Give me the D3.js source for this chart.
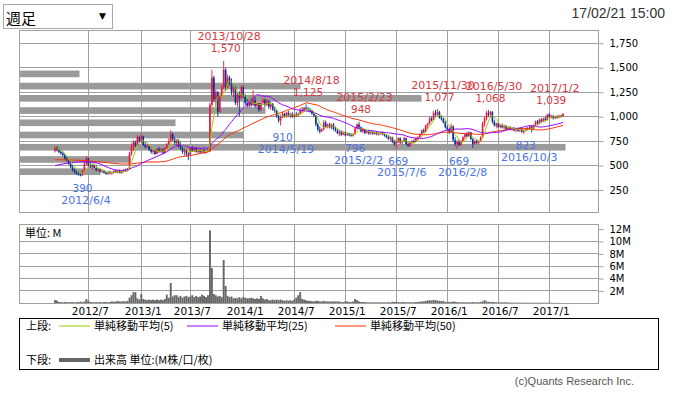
<!DOCTYPE html>
<html>
<head>
<meta charset="utf-8">
<script src="https://cdnjs.cloudflare.com/ajax/libs/d3/7.8.5/d3.min.js"></script>
<style>
  html, body { margin: 0; padding: 0; background: #fff; }
  svg { display: block; }
</style>
</head>
<body>
<svg id="chart" width="674" height="396"></svg>
<script>
// weekly candles, first row is the week of 2012-03-05
var firstWeek = '2012-03-05';

// [open, high, low, close, volume (M)]
var weeks2012 = [
  [650,700,634,690,0.53],[690,695,645,660,0.45],[660,675,625,640,0.2],[640,660,610,625,0.2],
  [625,645,595,605,0.15],[605,620,560,570,0.2],[570,590,540,550,0.2],[550,560,505,515,0.15],
  [515,540,470,480,0.2],[480,505,440,450,0.2],[450,470,420,430,0.15],[430,455,405,415,0.2],
  [415,440,398,405,0.2],[405,425,390,400,0.25],[400,455,398,445,0.2],[445,540,440,520,0.3],
  [520,597,505,575,0.7],[575,580,490,500,0.4],[500,540,470,480,0.2],[480,520,455,505,0.2],
  [505,520,470,475,0.15],[475,505,440,455,0.2],[455,480,440,460,0.15],[460,470,430,440,0.2],
  [440,465,425,450,0.15],[450,455,415,425,0.2],[425,445,405,415,0.2],[415,445,405,435,0.15],
  [435,450,410,420,0.2],[420,440,405,430,0.3],[430,455,420,445,0.25],[445,460,425,430,0.3],
  [430,455,420,450,0.35],[450,460,420,425,0.3],[425,445,415,440,0.3],[440,465,430,455,0.35],
  [455,470,435,445,0.3],[445,475,440,470,0.4],[470,640,460,620,0.9],[620,726,600,690,1.3],
  [690,760,650,740,1.8],[740,755,690,705,1.8],[705,811,700,790,0.8],[790,800,730,745,0.6]
];
var weeks2013 = [
  [745,828,735,800,1.5],[800,805,700,710,0.7],[710,740,675,690,0.6],[690,720,680,700,0.5],
  [700,710,650,660,0.6],[660,690,620,640,0.5],[640,670,615,655,0.6],[655,665,607,620,0.5],
  [620,680,615,670,0.6],[670,690,630,640,0.5],[640,680,630,665,0.6],[665,675,620,630,0.5],
  [630,690,625,680,0.7],[680,730,670,720,1.4],[720,780,710,750,0.9],[750,862,740,820,3.3],
  [820,840,750,770,1.1],[770,790,710,730,1.3],[730,770,690,760,1.3],[760,770,680,700,1.0],
  [700,745,660,675,1.2],[675,700,620,640,0.9],[640,680,600,660,1.1],[660,670,590,620,1.2],
  [620,640,556,610,1.0],[610,690,605,680,1.1],[680,700,640,650,1.3],[650,690,640,680,1.0],
  [680,690,630,640,1.2],[640,670,620,655,1.0],[655,675,625,635,1.1],[635,670,625,660,1.4],
  [660,670,625,630,1.2],[630,665,620,650,1.0],[650,675,635,645,1.3],[645,1140,640,1120,11.8],
  [1120,1480,1100,1400,5.7],[1400,1420,1150,1180,1.5],[1180,1280,1100,1250,1.3],[1250,1260,1000,1050,1.1],
  [1050,1240,1040,1220,1.2],[1220,1320,1200,1300,1.0],[1300,1570,1280,1480,7.0],[1480,1500,1260,1300,2.8],
  [1300,1430,1290,1400,1.2],[1400,1420,1320,1340,1.0],[1340,1390,1220,1250,1.1],[1250,1330,1200,1300,0.8],
  [1300,1310,1120,1140,0.9],[1140,1250,1100,1230,0.8],[1230,1260,1000,1190,1.0],[1190,1320,1180,1300,0.8]
];
var weeks2014 = [
  [1300,1320,1190,1210,1.0],[1210,1230,1120,1140,0.9],[1140,1180,1090,1110,0.8],[1110,1180,1090,1160,0.8],
  [1160,1190,1100,1120,0.9],[1120,1270,1110,1170,0.8],[1170,1200,1090,1110,0.7],[1110,1160,1080,1140,0.8],
  [1140,1150,1050,1070,0.7],[1070,1160,1060,1140,1.2],[1140,1190,1120,1170,0.8],[1170,1185,1100,1120,0.6],
  [1120,1180,1110,1160,0.7],[1160,1170,1080,1100,0.5],[1100,1150,1070,1130,0.5],[1130,1140,1060,1070,0.6],
  [1070,1100,1040,1060,0.5],[1060,1070,990,1000,0.6],[1000,1020,940,960,0.5],[960,1010,910,995,0.6],
  [995,1050,985,1030,0.5],[1030,1040,990,1000,0.4],[1000,1050,990,1040,0.5],[1040,1060,1000,1010,0.4],
  [1010,1040,985,1030,0.5],[1030,1045,990,1000,0.4],[1000,1030,985,1020,0.6],[1020,1050,1000,1010,0.9],
  [1010,1040,1000,1030,1.3],[1030,1090,1020,1070,1.8],[1070,1100,1040,1060,0.7],[1060,1100,1050,1090,0.6],
  [1090,1125,1060,1080,0.5],[1080,1100,1050,1070,0.4],[1070,1090,1040,1060,0.4],[1060,1070,1020,1030,0.3],
  [1030,1050,1000,1010,0.3],[1010,1015,900,920,0.4],[920,940,850,870,0.4],[870,900,828,850,0.3],
  [850,880,840,870,0.3],[870,964,860,940,0.4],[940,960,890,900,0.3],[900,930,880,920,0.3],
  [920,940,880,890,0.3],[890,930,870,920,0.3],[920,935,860,875,0.3],[875,900,845,860,0.3],
  [860,880,820,830,0.3],[830,860,800,850,0.3],[850,860,805,815,0.2],[815,850,810,840,0.2]
];
var weeks2015 = [
  [840,850,800,810,0.3],[810,840,805,830,0.3],[830,835,800,810,0.2],[810,830,798,805,0.2],
  [805,830,796,825,0.3],[825,890,815,880,0.7],[880,930,870,920,0.5],[920,948,880,890,0.3],
  [890,900,840,850,0.2],[850,880,830,870,0.2],[870,875,820,835,0.2],[835,860,825,850,0.15],
  [850,865,815,830,0.15],[830,850,815,845,0.15],[845,855,815,825,0.15],[825,845,815,840,0.15],
  [840,850,810,820,0.15],[820,840,805,830,0.15],[830,845,815,835,0.15],[835,850,810,820,0.15],
  [820,830,795,805,0.15],[805,820,780,790,0.15],[790,810,760,775,0.2],[775,800,750,790,0.15],
  [790,795,730,745,0.25],[745,760,700,720,0.2],[720,760,669,740,0.25],[740,790,730,780,0.2],
  [780,790,720,735,0.15],[735,760,715,750,0.2],[750,795,745,780,0.2],[780,785,710,720,0.15],
  [720,740,690,700,0.15],[700,745,690,735,0.15],[735,760,720,750,0.15],[750,770,730,745,0.15],
  [745,790,740,780,0.2],[780,800,760,790,0.2],[790,830,780,820,0.25],[820,870,810,860,0.3],
  [860,880,830,845,0.3],[845,920,840,910,0.4],[910,940,880,930,0.45],[930,1000,920,980,0.5],
  [980,1000,950,965,0.45],[965,1060,960,1040,0.55],[1040,1070,1000,1020,0.5],[1020,1077,1010,1050,0.45],
  [1050,1060,980,990,0.4],[990,1010,960,975,0.35],[975,990,930,940,0.4],[940,960,880,890,0.2]
];
var weeks2016 = [
  [890,910,860,870,0.2],[870,890,820,840,0.25],[840,930,830,900,0.2],[900,910,745,760,0.3],
  [760,790,700,720,0.25],[720,760,669,740,0.2],[740,770,700,710,0.15],[710,760,700,750,0.15],
  [750,800,740,790,0.15],[790,830,770,820,0.15],[820,845,790,800,0.15],[800,850,795,840,0.15],
  [840,845,760,770,0.15],[770,780,680,720,0.2],[720,760,710,750,0.15],[750,770,720,730,0.15],
  [730,760,715,750,0.15],[750,800,740,790,0.2],[790,947,780,930,0.3],[930,1000,900,980,0.5],
  [980,1060,960,1040,0.3],[1040,1068,1000,1020,0.25],[1020,1060,990,1050,0.2],[1050,1055,930,950,0.25],
  [950,970,900,910,0.2],[910,940,880,930,0.15],[930,940,885,895,0.15],[895,925,880,915,0.15],
  [915,930,880,890,0.15],[890,920,870,905,0.15],[905,915,865,875,0.15],[875,900,860,890,0.12],
  [890,905,865,870,0.12],[870,895,855,885,0.1],[885,895,850,860,0.1],[860,880,840,870,0.1],
  [870,885,845,855,0.1],[855,880,840,870,0.1],[870,885,835,845,0.1],[845,870,823,860,0.1],
  [860,890,850,880,0.1],[880,895,860,870,0.08],[870,910,865,900,0.1],[900,905,840,870,0.08],
  [870,920,865,910,0.1],[910,960,900,950,0.1],[950,965,920,930,0.08],[930,980,925,970,0.1],
  [970,985,940,950,0.08],[950,990,945,980,0.1],[980,1000,950,965,0.08],[965,1030,960,1020,0.1]
];
var weeks2017 = [
  [1020,1039,990,1000,0.1],[1000,1020,980,1010,0.08],[1010,1015,970,985,0.08],[985,1010,975,1000,0.06],
  [1000,1015,980,990,0.06],[990,1020,985,1010,0.06],[1010,1020,990,1000,0.05],[1000,1035,995,1030,0.06]
];

// moving averages before enough weeks exist: [week index, value]
var ma25Lead = [[0, 500], [8, 530], [16, 540]];
var ma50Lead = [[0, 560], [12, 555], [24, 535], [36, 515]];

var gridDates = ['2012-07-02','2013-01-07','2013-07-01','2014-01-06','2014-07-07',
  '2015-01-05','2015-07-06','2016-01-04','2016-07-04','2017-01-02'];
var gridLabels = ['2012/7','2013/1','2013/7','2014/1','2014/7','2015/1','2015/7','2016/1','2016/7','2017/1'];
var priceTicks = [250, 500, 750, 1000, 1250, 1500, 1750];
var volumeTicks = [2, 4, 6, 8, 10, 12];

// volume by price, band floors (step 125)
var profileFloors = [375, 500, 625, 750, 875, 1000, 1125, 1250, 1375];
var profileVolumes = [8.1, 11.1, 54.6, 22.4, 15.6, 24.6, 40.2, 28.1, 6.0];

var highDates = ['2013-10-28','2014-08-18','2015-02-23','2015-11-30','2016-05-30','2017-01-02'];
var highValues = [1570, 1125, 948, 1077, 1068, 1039];
var lowDates = ['2012-06-04','2014-05-19','2015-02-02','2015-07-06','2016-02-08','2016-10-03'];
var lowValues = [390, 910, 796, 669, 669, 823];

var parseDate = d3.timeParse('%Y-%m-%d');
var svg = d3.select('#chart');
var numFont = 'DejaVu Sans, sans-serif';
var jpFont = '"Noto Sans CJK JP", "Noto Sans", sans-serif';

var start = parseDate(firstWeek);
var candles = [].concat(weeks2012, weeks2013, weeks2014, weeks2015, weeks2016, weeks2017)
  .map(function(r, i) {
    return {date: d3.timeMonday.offset(start, i), open: r[0], high: r[1], low: r[2], close: r[3], volume: r[4]};
  });

var left = 19.5, right = 598.5;
var mainTop = 30.5, mainBottom = 212.5;
var volTop = 224.5, volBottom = 303.5;

var x = d3.scaleTime()
  .domain([candles[0].date, candles[candles.length - 1].date])
  .range([55, 563]);
var y = d3.scaleLinear().domain([0, 1750]).range([214.5, 43.3]);
var yVol = d3.scaleLinear().domain([0, 10]).range([303.3, 241.5]);
var profileX = d3.scaleLinear().domain([0, 60]).range([left, left + 600]);

function crisp(v) { return Math.round(v - 0.5) + 0.5; }

// header
svg.append('rect')
  .attr('x', 3.5).attr('y', 4.5).attr('width', 109).attr('height', 24)
  .attr('fill', '#fff').attr('stroke', '#a8a8a8');
svg.append('text').attr('x', 6).attr('y', 23.5)
  .attr('font-family', jpFont).attr('font-size', 15).attr('fill', '#000').text('週足');
svg.append('text').attr('x', 99).attr('y', 19)
  .attr('font-family', numFont).attr('font-size', 9).attr('fill', '#000').text('▼');
svg.append('text').attr('x', 665).attr('y', 17.5).attr('text-anchor', 'end')
  .attr('font-family', 'Liberation Sans, Arial, sans-serif').attr('font-size', 14)
  .attr('fill', '#333').text('17/02/21 15:00');

var grid = svg.append('g').attr('stroke', '#a0a0a0').attr('stroke-width', 1);

function drawPanelGrid(top, bottom, ticks, scale) {
  gridDates.forEach(function(d) {
    var gx = crisp(x(parseDate(d)));
    grid.append('line').attr('x1', gx).attr('x2', gx).attr('y1', top).attr('y2', bottom);
  });
  ticks.forEach(function(t) {
    var gy = crisp(scale(t));
    if (gy <= top + 3) return;
    grid.append('line').attr('x1', left).attr('x2', right).attr('y1', gy).attr('y2', gy);
  });
}
drawPanelGrid(mainTop, mainBottom, priceTicks, y);
drawPanelGrid(volTop, volBottom, volumeTicks.slice(0, 5), yVol);

// volume by price
var bandHalf = 34;
svg.append('g').selectAll('rect')
  .data(profileFloors)
  .join('rect')
  .attr('x', left)
  .attr('y', function(f) { return y(f + 62.5 + bandHalf); })
  .attr('width', function(f, i) { return profileX(profileVolumes[i]) - left; })
  .attr('height', function(f) { return y(f + 62.5 - bandHalf) - y(f + 62.5 + bandHalf); })
  .attr('fill', '#9a9a9a');

// candles
var upColor = '#f0143c', downColor = '#0a3399';
var candleLayer = svg.append('g');
candleLayer.selectAll('line')
  .data(candles)
  .join('line')
  .attr('x1', function(d) { return x(d.date); })
  .attr('x2', function(d) { return x(d.date); })
  .attr('y1', function(d) { return y(d.high); })
  .attr('y2', function(d) { return y(d.low); })
  .attr('stroke', function(d) { return d.close >= d.open ? upColor : downColor; })
  .attr('stroke-width', 0.9);
candleLayer.selectAll('rect')
  .data(candles)
  .join('rect')
  .attr('x', function(d) { return x(d.date) - 0.8; })
  .attr('width', 1.6)
  .attr('y', function(d) { return y(Math.max(d.open, d.close)); })
  .attr('height', function(d) { return Math.max(1, Math.abs(y(d.open) - y(d.close))); })
  .attr('fill', function(d) { return d.close >= d.open ? upColor : downColor; });

// moving averages
function movingAverage(n, lead) {
  var pts = lead.map(function(p) { return {date: d3.timeMonday.offset(start, p[0]), value: p[1]}; });
  candles.forEach(function(c, i) {
    if (lead.length && i < n - 1) return;
    var win = candles.slice(Math.max(0, i - n + 1), i + 1);
    pts.push({date: c.date, value: d3.mean(win, function(d) { return d.close; })});
  });
  return pts;
}
var maLine = d3.line()
  .x(function(d) { return x(d.date); })
  .y(function(d) { return y(d.value); })
  .curve(d3.curveMonotoneX);
[[50, ma50Lead, '#ff3300'], [25, ma25Lead, '#9900ff'], [5, [], '#99cc00']].forEach(function(m) {
  svg.append('path')
    .datum(movingAverage(m[0], m[1]))
    .attr('d', maLine)
    .attr('fill', 'none')
    .attr('stroke', m[2])
    .attr('stroke-width', 1);
});

// high / low annotations
var notes = svg.append('g').attr('font-family', numFont).attr('text-anchor', 'middle');
highDates.forEach(function(d, i) {
  var nx = x(parseDate(d)), ny = y(highValues[i]);
  notes.append('text').attr('x', nx + 5.5).attr('y', ny - 20.5)
    .attr('font-size', 11).attr('fill', '#d9363e').text(d.replace(/-0?/g, '/').replace(/\/(\d)\//, '/$1/'));
  notes.append('text').attr('x', nx + 2).attr('y', ny - 8.5)
    .attr('font-size', 10.5).attr('fill', '#d9363e').text(d3.format(',')(highValues[i]));
});
lowDates.forEach(function(d, i) {
  var nx = x(parseDate(d)), ny = y(lowValues[i]);
  notes.append('text').attr('x', nx + 2).attr('y', ny + 15.5)
    .attr('font-size', 10.5).attr('fill', '#4b72e6').text(d3.format(',')(lowValues[i]));
  notes.append('text').attr('x', nx + 5.5).attr('y', ny + 27.3)
    .attr('font-size', 11).attr('fill', '#4b72e6').text(d.replace(/-0?/g, '/'));
});

// volume bars
svg.append('g').selectAll('rect')
  .data(candles)
  .join('rect')
  .attr('x', function(d) { return x(d.date) - 0.95; })
  .attr('width', 1.9)
  .attr('y', function(d) { return yVol(d.volume); })
  .attr('height', function(d) { return yVol(0) - yVol(d.volume); })
  .attr('fill', '#666');

svg.append('text').attr('x', 25).attr('y', 237)
  .attr('font-family', jpFont).attr('font-size', 11).attr('fill', '#000').text('単位: M');

// frames
[[mainTop, mainBottom], [volTop, volBottom]].forEach(function(p) {
  svg.append('rect').attr('x', left).attr('y', p[0])
    .attr('width', right - left).attr('height', p[1] - p[0])
    .attr('fill', 'none').attr('stroke', '#a0a0a0');
});

// axes
function styleAxis(g) {
  g.select('.domain').remove();
  g.selectAll('.tick line').attr('stroke', '#a0a0a0');
  g.selectAll('.tick text').attr('font-family', numFont).attr('fill', '#000');
}
svg.append('g')
  .attr('transform', 'translate(' + right + ',0)')
  .call(d3.axisRight(y).tickValues(priceTicks).tickFormat(d3.format(',')).tickSize(5).tickPadding(6))
  .attr('font-size', 10)
  .call(styleAxis);
svg.append('g')
  .attr('transform', 'translate(' + right + ',0)')
  .call(d3.axisRight(yVol).tickValues(volumeTicks).tickFormat(function(d) { return d + 'M'; })
    .tickSize(5).tickPadding(6))
  .attr('font-size', 10)
  .call(styleAxis);
svg.append('g')
  .attr('transform', 'translate(1.5,' + volBottom + ')')
  .call(d3.axisBottom(x).tickValues(gridDates.map(parseDate))
    .tickFormat(function(d, i) { return gridLabels[i]; }).tickSize(0).tickPadding(4))
  .attr('font-size', 10.5)
  .call(styleAxis);

// legend
var legend = svg.append('g').attr('font-family', jpFont).attr('font-size', 11).attr('fill', '#000');
legend.append('rect').attr('x', 19.5).attr('y', 318.5).attr('width', 639).attr('height', 51)
  .attr('fill', 'none').attr('stroke', '#000');
legend.append('text').attr('x', 26).attr('y', 330).text('上段:');
legend.append('text').attr('x', 26).attr('y', 364).text('下段:');
var legendItems = [
  {x: 59, y: 326, color: '#99cc00', width: 1, label: '単純移動平均(5)'},
  {x: 187, y: 326, color: '#9900ff', width: 1, label: '単純移動平均(25)'},
  {x: 335, y: 326, color: '#ff3300', width: 1, label: '単純移動平均(50)'},
  {x: 59, y: 360, color: '#666', width: 4, label: '出来高 単位:(M株/口/枚)'}
];
legendItems.forEach(function(it) {
  legend.append('line').attr('x1', it.x).attr('x2', it.x + 31).attr('y1', it.y).attr('y2', it.y)
    .attr('stroke', it.color).attr('stroke-width', it.width);
  legend.append('text').attr('x', it.x + 35).attr('y', it.y + 4).text(it.label);
});

svg.append('text').attr('x', 634).attr('y', 385).attr('text-anchor', 'end')
  .attr('font-family', 'Liberation Sans, Arial, sans-serif').attr('font-size', 11)
  .attr('fill', '#555').text('(c)Quants Research Inc.');
</script>
</body>
</html>
